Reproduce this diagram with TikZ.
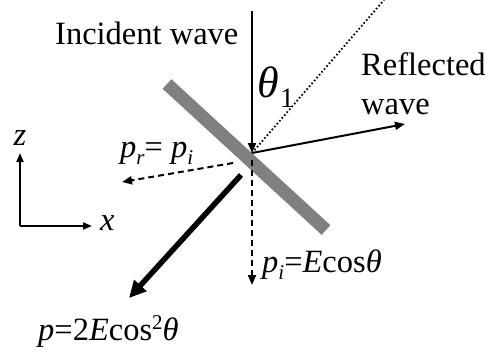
\documentclass[tikz,border=0pt]{standalone}
\usepackage{fontspec}
\setmainfont{Liberation Serif}
\usetikzlibrary{arrows.meta}
\newcommand\mysub[1]{\raisebox{-0.22em}{\fontsize{21}{21}\selectfont\itshape #1}}
\newcommand\mysup[1]{\raisebox{0.33em}{\fontsize{21}{21}\selectfont #1}}
\begin{document}
\begin{tikzpicture}[x=1pt,y=-1pt,
  lbl/.style={inner sep=0pt, anchor=base west, font=\fontsize{32.5}{38}\selectfont},
  ray/.style={line width=2pt, -{Triangle[length=10pt,width=8pt]}},
  dray/.style={ray, dash pattern=on 6pt off 4pt},
  bigray/.style={line width=5.5pt, -{Triangle[length=17pt,width=16pt]}},
  axis/.style={line width=2pt, -{Triangle[length=9pt,width=7pt]}},
  plate/.style={line width=13pt, draw={rgb,255:red,128;green,128;blue,128}},
  dots/.style={line width=1.8pt, dash pattern=on 1.6pt off 2.2pt}]
\useasboundingbox (0,0) rectangle (493,356);
% plate
\coordinate (P1) at (167,84);
\coordinate (P2) at (326,230);
\draw[plate] (P1) -- (P2);
% key points
\coordinate (O) at (252,153);
\coordinate (Itop) at (252,11);
\coordinate (Dtop) at (384,0);
\coordinate (R) at (405,124);
\coordinate (Ps) at (233,163);
\coordinate (Pe) at (122,182);
\coordinate (Ts) at (241,175);
\coordinate (Te) at (129,298);
\coordinate (Vs) at (252,160);
\coordinate (Ve) at (252,285);
% rays
\draw[ray] (Itop) -- (O);
\draw[dots] (O) -- (Dtop);
\draw[ray] (O) -- (R);
\draw[dray] (Ps) -- (Pe);
\draw[bigray] (Ts) -- (Te);
\draw[dray] (Vs) -- (Ve);
% axes
\coordinate (A0) at (20,226);
\coordinate (Az) at (20,153);
\coordinate (Ax) at (92,226);
\draw[axis] (A0) -- (Az);
\draw[axis] (A0) -- (Ax);
\node[lbl, anchor=base] (zl) at (20,145) {\itshape z};
\node[lbl] (xl) at (100,230) {\itshape x};
% labels
\node[lbl] (inc) at (55,45) {Incident wave};
\node[lbl] (ref) at (361,75) {Reflected};
\node[lbl] (wav) at (361,114) {wave};
\node[inner sep=0pt, anchor=base west, font=\fontsize{44}{44}\selectfont] (th) at (257,97) {\itshape θ};
\node[inner sep=0pt, anchor=base west, font=\fontsize{28}{28}\selectfont] (one) at (280,107) {1};
\node[lbl] (pr) at (120,157) {\itshape p\mysub{r}\upshape= \itshape p\mysub{i}};
\node[lbl] (pi) at (262,272) {\itshape p\mysub{i}\upshape=\itshape E\upshape cos\itshape θ};
\node[lbl] (pp) at (38,340) {\itshape p\upshape=2\itshape E\upshape cos\mysup{2}\itshape θ};
\end{tikzpicture}
\end{document}
